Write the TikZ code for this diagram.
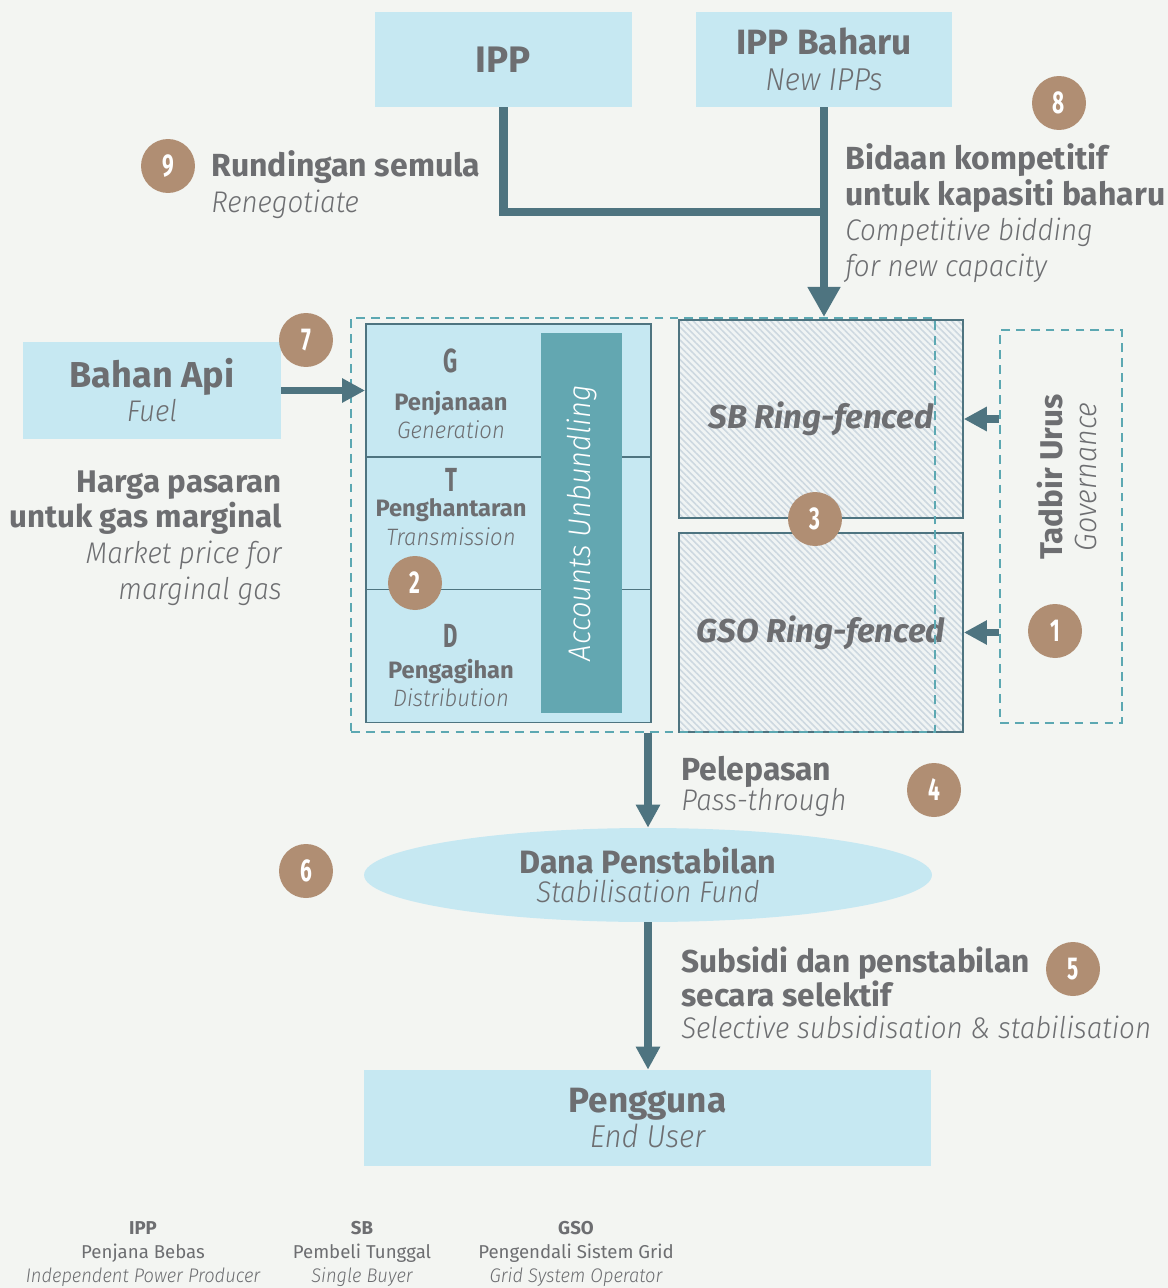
\documentclass[tikz,border=0pt]{standalone}
\usepackage{fontspec}
\setmainfont{Fira Sans}[ItalicFont={Fira Sans Light Italic},ItalicFeatures={FakeStretch=0.93},
    BoldItalicFont={Fira Sans Bold Italic}]
\newfontfamily\condfont{Fira Sans}[FakeStretch=0.66]
\usetikzlibrary{arrows.meta, patterns.meta, shapes.geometric}

\definecolor{bgcol}{HTML}{F3F5F2}
\definecolor{boxblue}{HTML}{C6E8F2}
\definecolor{linedark}{HTML}{4E7480}
\definecolor{dashteal}{HTML}{5CA8B2}
\definecolor{barteal}{HTML}{63A7B1}
\definecolor{numbrown}{HTML}{B08E73}
\definecolor{txtgray}{HTML}{6D6E71}
\definecolor{hatchbg}{HTML}{F0F4F4}
\definecolor{hatchline}{HTML}{CDD8E0}

% italic second lines of the labels
\newcommand{\sub}[1]{{\mdseries\itshape\fontsize{17}{20}\selectfont #1}}

\tikzset{
    every node/.append style={text=txtgray},
    titlebox/.style={fill=boxblue, inner sep=0pt, align=center},
    sect/.style={draw=linedark, line width=1.1pt, fill=boxblue, inner sep=0pt,
        minimum width=5.70cm, minimum height=2.66cm},
    unbar/.style={fill=barteal, rotate=90, inner sep=0pt, text=white,
        minimum width=7.60cm, minimum height=1.62cm,
        font=\itshape\fontsize{17.8}{20}\selectfont},
    letter/.style={inner sep=0pt, font=\condfont\bfseries\fontsize{19}{19}\selectfont},
    secttxt/.style={inner sep=0pt, align=center, font=\fontsize{13.5}{16.4}\selectfont},
    ring/.style={draw=linedark, line width=1.1pt, preaction={fill=hatchbg},
        pattern={Lines[angle=-45, distance=2.6pt, line width=0.9pt]}, pattern color=hatchline,
        minimum width=5.68cm, minimum height=3.97cm, inner sep=0pt,
        font=\bfseries\itshape\fontsize{18.8}{20}\selectfont},
    dashbox/.style={draw=dashteal, line width=1.2pt, dash pattern=on 5pt off 3.5pt, inner sep=0pt},
    num/.style={circle, fill=numbrown, minimum size=1.08cm, inner sep=0pt, text=white,
        font=\condfont\bfseries\fontsize{18}{18}\selectfont},
    lbl/.style={inner sep=0pt, font=\bfseries\fontsize{18.2}{20.4}\selectfont},
    legend/.style={inner sep=0pt, align=center, font=\fontsize{10.6}{13.6}\selectfont},
    bigline/.style={draw=linedark, line width=5.1pt},
    flow/.style={draw=linedark, line width=4pt, -{Triangle[width=0.46cm, length=0.46cm]}},
}

\begin{document}
\begin{tikzpicture}[x=0.02cm, y=-0.02cm]
    \fill[bgcol] (0,0) rectangle (1168,1288);
    \useasboundingbox (0,0) rectangle (1168,1288);

    % producers
    \node[titlebox, minimum width=5.14cm, minimum height=1.90cm,
        font=\bfseries\fontsize{21}{24}\selectfont] (ipp) at (503.5,59.5) {IPP};
    \node[titlebox, minimum width=5.12cm, minimum height=1.90cm,
        font=\fontsize{20}{20.4}\selectfont] (ippnew) at (824,59.5)
        {\textbf{IPP Baharu}\\{\itshape\fontsize{18}{20.4}\selectfont New IPPs}};

    % fuel
    \node[titlebox, minimum width=5.16cm, minimum height=1.94cm,
        font=\fontsize{20.5}{19.3}\selectfont] (fuel) at (152,390.5)
        {\textbf{Bahan Api}\\{\itshape\fontsize{17}{19.3}\selectfont Fuel}};

    % G, T, D with accounts unbundling
    \node[sect] (gen) at (508.5,390.5) {};
    \node[sect] (trans) at (508.5,523.5) {};
    \node[sect] (dist) at (508.5,656) {};
    \node[unbar] (unbund) at (581.5,523) {Accounts Unbundling};
    \node[letter] (gl) at (451,361) {G};
    \node[secttxt] (gname) at (451,415) {\textbf{Penjanaan}\\\textit{Generation}};
    \node[letter] (tl) at (451,480) {T};
    \node[secttxt] (tname) at (451,522) {\textbf{Penghantaran}\\\textit{Transmission}};
    \node[letter] (dl) at (451,636) {D};
    \node[secttxt] (dname) at (451,683) {\textbf{Pengagihan}\\\textit{Distribution}};

    % ring-fenced entities
    \node[ring] (sb) at (821,419) {SB Ring-fenced};
    \node[ring] (gso) at (821,632.5) {GSO Ring-fenced};
    \node[dashbox, minimum width=11.68cm, minimum height=8.28cm] (core) at (643,525) {};

    % governance
    \node[dashbox, minimum width=2.44cm, minimum height=7.86cm] (gov) at (1061,526.5) {};
    \node[rotate=90, inner sep=0pt, align=center, font=\fontsize{17.9}{19.8}\selectfont]
        (govtxt) at (1067,477) {\textbf{Tadbir Urus}\\{\itshape\fontsize{17.5}{19.8}\selectfont Governance}};

    % stabilisation fund and end user
    \node[ellipse, fill=boxblue, minimum width=11.36cm, minimum height=1.88cm, inner sep=0pt,
        align=center, font=\fontsize{18.4}{17}\selectfont] (fund) at (648,875)
        {\textbf{Dana Penstabilan}\\{\itshape\fontsize{17}{17}\selectfont Stabilisation Fund}};
    \node[titlebox, minimum width=11.34cm, minimum height=1.92cm,
        font=\fontsize{20}{20.4}\selectfont] (user) at (647.5,1118)
        {\textbf{Pengguna}\\{\itshape\fontsize{18}{20.4}\selectfont End User}};

    % labels
    \node[lbl, anchor=north west, align=left] (reneg) at (211,150)
        {Rundingan semula\\\sub{Renegotiate}};
    \node[lbl, anchor=north west, align=left] (bid) at (845,143)
        {Bidaan kompetitif\\untuk kapasiti baharu\\\sub{Competitive bidding}\\\sub{for new capacity}};
    \node[lbl, anchor=north east, align=right, font=\bfseries\fontsize{17.8}{20.4}\selectfont] (gasprice) at (282,470)
        {Harga pasaran\\untuk gas marginal\\\sub{Market price for}\\\sub{marginal gas}};
    \node[lbl, anchor=north west, align=left, font=\bfseries\fontsize{18.2}{17}\selectfont] (pass) at (681,756)
        {Pelepasan\\\sub{Pass-through}};
    \node[lbl, anchor=north west, align=left, font=\bfseries\fontsize{18}{18.1}\selectfont] (subsidy) at (681,946)
        {Subsidi dan penstabilan\\secara selektif\\\sub{Selective subsidisation \& stabilisation}};

    % connectors
    \coordinate (join) at (ippnew.south |- 0,212);
    \draw[bigline] (ipp.south) |- (join);
    \draw[bigline, -{Triangle[width=0.62cm, length=0.6cm]}] (ippnew.south) -- (ippnew.south |- core.north);
    \draw[flow] (fuel.east) -- (gen.west);
    \draw[flow] (gov.west |- sb.east) -- (sb.east);
    \draw[flow] (gov.west |- gso.east) -- (gso.east);
    \draw[flow] (fund.north |- core.south) -- (fund.north);
    \draw[flow] (fund.south) -- (fund.south |- user.north);

    % numbered markers
    \node[num] (n1) at (1055,631) {1};
    \node[num] (n2) at (415,583) {2};
    \node[num] (n3) at (815,519) {3};
    \node[num] (n4) at (934,790) {4};
    \node[num] (n5) at (1073,969) {5};
    \node[num] (n6) at (306,871) {6};
    \node[num] (n7) at (306,340) {7};
    \node[num] (n8) at (1059,103) {8};
    \node[num] (n9) at (168,166) {9};

    % legend
    \node[legend] (lgipp) at (143,1254) {\textbf{IPP}\\Penjana Bebas\\{\itshape\fontsize{11.2}{13.6}\selectfont Independent Power Producer}};
    \node[legend] (lgsb) at (362,1254) {\textbf{SB}\\Pembeli Tunggal\\{\itshape\fontsize{11.2}{13.6}\selectfont Single Buyer}};
    \node[legend] (lggso) at (576,1254) {\textbf{GSO}\\Pengendali Sistem Grid\\{\itshape\fontsize{11.2}{13.6}\selectfont Grid System Operator}};
\end{tikzpicture}
\end{document}
